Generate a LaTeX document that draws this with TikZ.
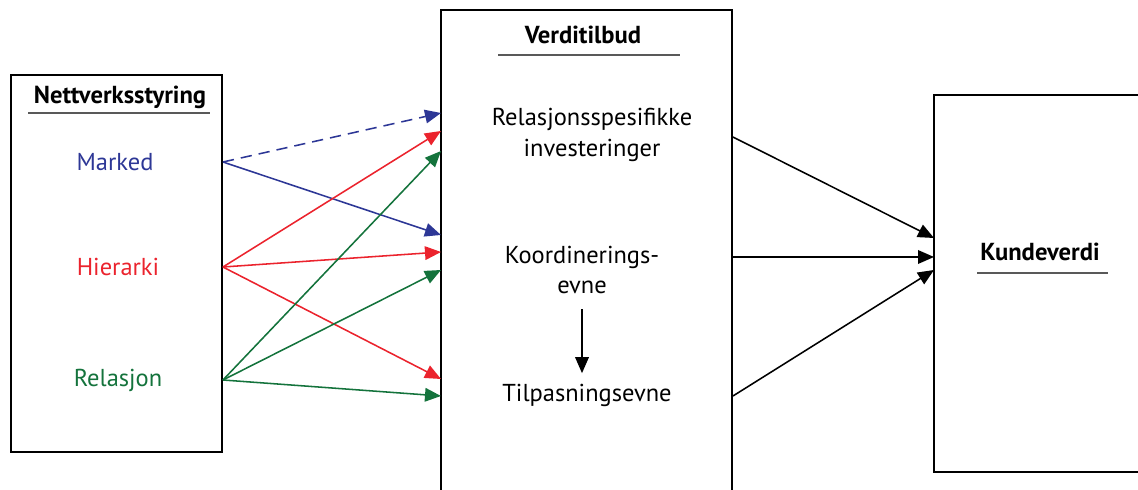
\documentclass[tikz,border=0pt]{standalone}
\usepackage{fontspec}
\setmainfont{PT Sans}
\usetikzlibrary{positioning,arrows.meta}
\definecolor{markblue}{RGB}{45,55,150}
\definecolor{hierred}{RGB}{235,35,45}
\definecolor{relgreen}{RGB}{20,115,60}
\tikzset{
  pil/.style={-{Triangle[length=4mm, width=3.4mm]}, line width=1.1pt},
  boks/.style={draw, line width=1.3pt, inner sep=0pt},
  tittel/.style={font=\fontsize{17.5}{21}\selectfont\bfseries},
  ledd/.style={font=\fontsize{17.4}{22}\selectfont, align=center},
  strek/.style={line width=1pt, gray!70!black}
}

\begin{document}
\begin{tikzpicture}[x=0.025cm, y=-0.025cm]
  \useasboundingbox (0,0) rectangle (1138,490);
  \node[boks, minimum width=5.275cm, minimum height=9.425cm] (styr) at (116.5,263.5) {};
  \node[boks, minimum width=7.275cm, minimum height=12.5cm] (tilbud) at (586.5,260) {};
  \node[boks, minimum width=6cm, minimum height=9.425cm] (kunde) at (1054,283.5) {};

  \node[tittel] (styrtittel) at (120,97) {Nettverksstyring};
  \node[tittel] (vtittel) at (583,35) {Verditilbud};
  \node[tittel] (ktittel) at (1040,252) {Kundeverdi};
  \draw[strek] (28,113) -- (210,113);
  \draw[strek] (498,55) -- (680,55);
  \draw[strek] (977,273) -- (1108,273);

  \node[ledd, text=markblue] (marked) at (115,162) {Marked};
  \node[ledd, text=hierred] (hierarki) at (118,267) {Hierarki};
  \node[ledd, text=relgreen] (relasjon) at (118,380) {Relasjon};

  \node[ledd] (invest) at (592,135) {Relasjonsspesifikke\\investeringer};
  \node[ledd] (koord) at (582,270) {Koordinerings-\\evne};
  \node[ledd] (tilpas) at (587,395) {Tilpasningsevne};

  \coordinate (inn1) at (441,113);
  \coordinate (inn2) at (441,131);
  \coordinate (inn3) at (441,151);
  \coordinate (inn4) at (441,235);
  \coordinate (inn5) at (441,252);
  \coordinate (inn6) at (441,270);
  \coordinate (inn7) at (441,379);
  \coordinate (inn8) at (441,396);

  \draw[pil, markblue, dashed, dash pattern=on 8pt off 5pt] (styr.east |- marked) -- (inn1);
  \draw[pil, markblue] (styr.east |- marked) -- (inn4);
  \draw[pil, hierred] (styr.east |- hierarki) -- (inn2);
  \draw[pil, hierred] (styr.east |- hierarki) -- (inn5);
  \draw[pil, hierred] (styr.east |- hierarki) -- (inn7);
  \draw[pil, relgreen] (styr.east |- relasjon) -- (inn3);
  \draw[pil, relgreen] (styr.east |- relasjon) -- (inn6);
  \draw[pil, relgreen] (styr.east |- relasjon) -- (inn8);

  \draw[pil, shorten <=7pt, shorten >=4pt] (koord.south) -- (koord.south |- tilpas.north);

  \coordinate (ut1) at (934,238);
  \coordinate (ut2) at (934,257);
  \coordinate (ut3) at (934,270);
  \draw[pil] (tilbud.east |- 0,137) -- (ut1);
  \draw[pil] (tilbud.east |- 0,257) -- (ut2);
  \draw[pil] (tilbud.east |- 0,396) -- (ut3);
\end{tikzpicture}
\end{document}
